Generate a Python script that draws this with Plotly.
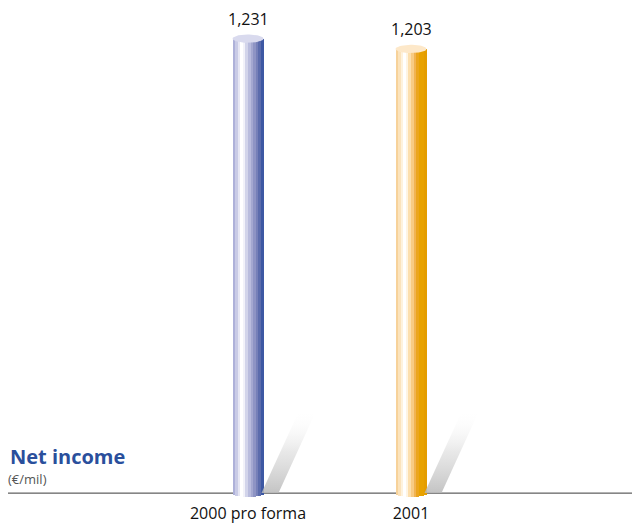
import numpy as np
import plotly.graph_objects as go

# ---- data ----
categories = ["2000 pro forma", "2001"]
values = [1231, 1203]
value_labels = ["1,231", "1,203"]
title_text = "Net income"
unit_text = "(€/mil)"

# ---- styles ----
blue_stripes = ["#aeb1d9", "#c9cbe6", "#e6e6f3", "#ffffff", "#f2f2f9", "#d2d4ea",
                "#b9bcdd", "#a4a8d0", "#8e94c4", "#7680b8", "#5c6cac", "#3d58a3"]
orange_stripes = ["#f7d29a", "#fbe3bc", "#fef2dd", "#ffffff", "#fef4e3", "#fcdfae",
                  "#f8cb84", "#f1b352", "#eba51e", "#e8a200", "#e8a200", "#e49d00"]
cap_colors = ["#d9daee", "#fde8c9"]
FONT = "Open Sans"

# page body has an 8px margin, so the figure is laid out in page coords minus 8
OFF = 8
W, H = 640 - OFF, 524 - OFF
ML, MR, MT, MB = 0, 0, 0, 16
plot_w = W - ML - MR
plot_h = H - MT - MB
px_per_cat = 163.0
center0_px = 248.0 - OFF
base_px = 499.0 - OFF
top_px = 39.0 - OFF
k = (base_px - top_px) / values[0]  # pixels per unit (tallest bar sets scale)

x_lo = -(center0_px - ML) / px_per_cat
x_hi = x_lo + plot_w / px_per_cat
y_lo = -(plot_h - base_px) / k
y_hi = base_px / k

bar_w = 31.0 / px_per_cat
cap_h = 4.2 / k
bot_h = 4.0 / k
n = len(blue_stripes)
sw = bar_w / n
xs = list(range(len(categories)))

fig = go.Figure()

# shadows
sh_dx = 38.0 / px_per_cat
sh_h = 84.0 / k
sh_w = 17.0 / px_per_cat
for i, v in enumerate(values):
    x0 = xs[i] + bar_w / 2 - 2.0 / px_per_cat
    fig.add_trace(go.Scatter(
        x=[x0, x0 + sh_w, x0 + sh_w + sh_dx, x0 + sh_dx, x0],
        y=[0, 0, sh_h, sh_h, 0],
        mode="lines", line=dict(width=0), fill="toself",
        fillgradient=dict(type="vertical",
                          colorscale=[[0, "rgba(185,185,185,0.85)"], [0.5, "rgba(220,220,220,0.65)"],
                                      [1, "rgba(255,255,255,0)"]]),
        hoverinfo="skip", showlegend=False))

# cylinder body as stripes
for j in range(n):
    u = ((j + 0.5) * sw - bar_w / 2) / (bar_w / 2)
    b = -bot_h * np.sqrt(max(0.0, 1 - u * u))
    fig.add_trace(go.Bar(
        x=xs, y=[v - b for v in values], base=[b] * len(values),
        width=[sw * 1.02] * len(values), offset=-bar_w / 2 + j * sw,
        marker=dict(color=[blue_stripes[j], orange_stripes[j]], line=dict(width=0)),
        hoverinfo="skip", showlegend=False))

# top caps
t = np.linspace(0, 2 * np.pi, 60)
for i, v in enumerate(values):
    fig.add_trace(go.Scatter(
        x=xs[i] + (bar_w / 2) * np.cos(t), y=v + cap_h * np.sin(t),
        mode="lines", line=dict(width=0), fill="toself", fillcolor=cap_colors[i],
        hoverinfo="skip", showlegend=False))

# value labels
for i, v in enumerate(values):
    fig.add_annotation(x=xs[i], y=v, text=value_labels[i], showarrow=False,
                       yshift=20, font=dict(size=16, color="#111111", family=FONT))

# baseline
fig.add_shape(type="line", xref="paper", yref="y", x0=0, x1=1.05, y0=0, y1=0,
              line=dict(color="#3a3a3a", width=1), layer="below")

# titles
fig.add_annotation(xref="paper", yref="y", x=0, y=0, xanchor="left", yanchor="middle",
                   yshift=37, xshift=0, text=f"<b>{title_text}</b>", showarrow=False,
                   font=dict(size=20, color="#2a4f9c", family=FONT))
fig.add_annotation(xref="paper", yref="y", x=0, y=0, xanchor="left", yanchor="middle",
                   yshift=14, xshift=-2, text=unit_text, showarrow=False,
                   font=dict(size=13, color="#555555", family=FONT))

fig.update_layout(
    width=W, height=H, margin=dict(l=ML, r=MR, t=MT, b=MB),
    paper_bgcolor="white", plot_bgcolor="white", barmode="overlay", bargap=0,
    showlegend=False,
    xaxis=dict(range=[x_lo, x_hi], tickvals=xs, ticktext=categories, showgrid=False,
               zeroline=False, showline=False, ticks="", ticklen=0,
               tickfont=dict(size=16, color="#111111", family=FONT)),
    yaxis=dict(range=[y_lo, y_hi], showgrid=False, zeroline=False, showline=False,
               showticklabels=False, ticks=""),
)

fig.write_html("out.html")
